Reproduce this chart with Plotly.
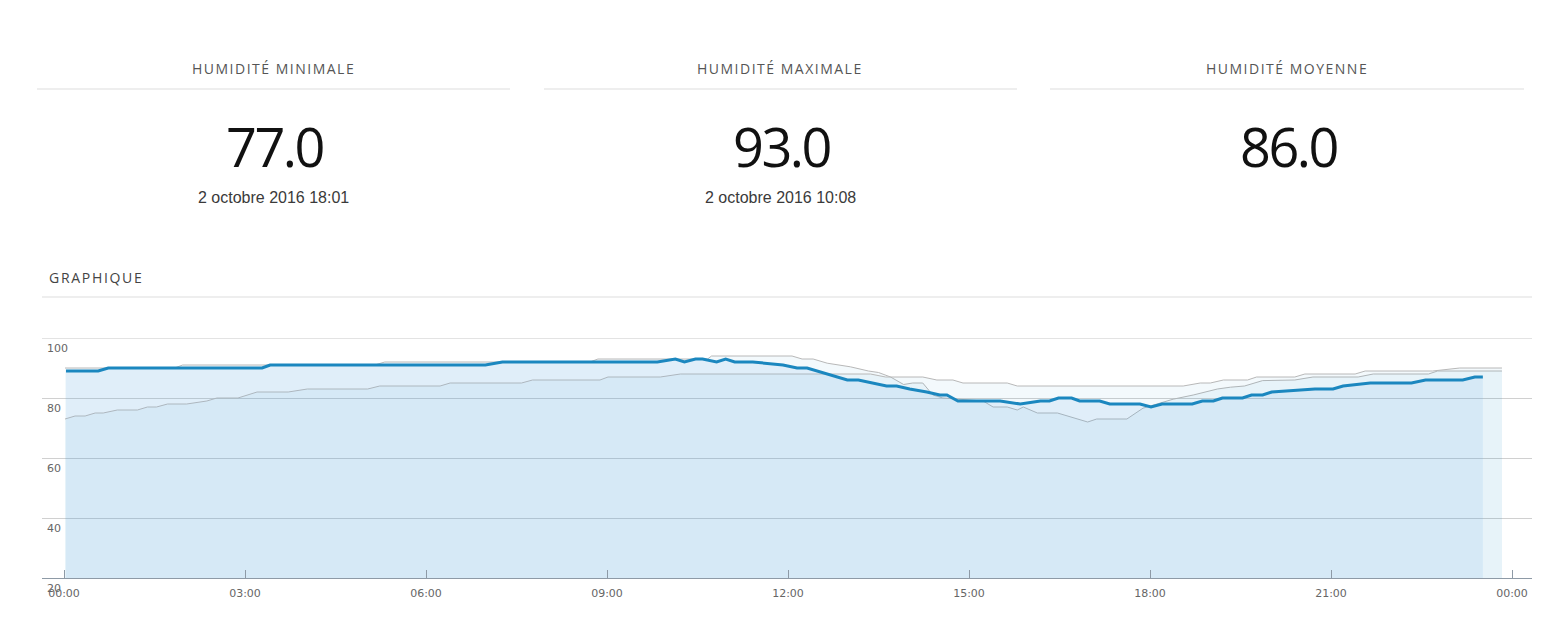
import plotly.graph_objects as go

day = "2016-10-02 "

# Valeurs des cartes en haut
stat_titles = ["HUMIDITÉ MINIMALE", "HUMIDITÉ MAXIMALE", "HUMIDITÉ MOYENNE"]
stat_values = [77.0, 93.0, 86.0]
stat_dates = ["2 octobre 2016 18:01", "2 octobre 2016 10:08", ""]

# Humidité du jour (courbe bleue)
hum_time = ["00:02", "00:34", "00:44", "03:17", "03:25", "06:59", "07:16", "09:50",
            "10:08", "10:17", "10:28", "10:35", "10:49", "10:58", "11:07", "11:25",
            "11:55", "12:09", "12:19", "12:59", "13:10", "13:38", "13:48", "14:01",
            "14:18", "14:31", "14:38", "14:49", "15:31", "15:51", "16:11", "16:20",
            "16:29", "16:42", "16:50", "17:10", "17:20", "17:50", "18:01", "18:12",
            "18:42", "18:52", "19:03", "19:12", "19:32", "19:41", "19:52", "20:01",
            "20:44", "21:02", "21:12", "21:39", "22:20", "22:34", "23:11", "23:23",
            "23:31"]
hum_val = [89, 89, 90, 90, 91, 91, 92, 92,
           93, 92, 93, 93, 92, 93, 92, 92,
           91, 90, 90, 86, 86, 84, 84, 83,
           82, 81, 81, 79, 79, 78, 79, 79,
           80, 80, 79, 79, 78, 78, 77, 78,
           78, 79, 79, 80, 80, 81, 81, 82,
           83, 83, 84, 85, 85, 86, 86, 87,
           87]

# Courbes de référence (grises)
ref_a_time = ["00:01", "01:50", "01:58", "05:09", "05:19", "08:43", "08:51", "10:40",
              "10:44", "12:04", "12:14", "12:25", "12:39", "13:02", "13:20", "13:30",
              "13:42", "13:55", "14:04", "14:14", "14:24", "14:34", "15:14", "15:24",
              "15:38", "15:48", "15:54", "16:08", "16:28", "16:58", "17:07", "17:37",
              "17:53", "18:23", "18:43", "19:07", "19:20", "19:29", "19:34", "19:52",
              "20:24", "20:42", "21:27", "21:42", "22:37", "22:46", "23:50"]
ref_a_val = [90, 90, 91, 91, 92, 92, 93, 93,
             94, 94, 93, 93, 91.6, 90.4, 89, 88.5,
             87, 84.5, 85, 85, 81, 80, 79, 77,
             77, 76, 77, 75, 75, 72, 73, 73,
             76.6, 79.6, 81, 83, 83.6, 84, 84, 85.8,
             86, 87, 87, 88, 88, 89, 89]

ref_b_time = ["00:01", "00:11", "00:21", "00:31", "00:39", "00:53", "01:13", "01:23",
              "01:32", "01:43", "02:02", "02:22", "02:32", "02:53", "03:12", "03:43",
              "04:02", "05:02", "05:14", "06:14", "06:24", "07:35", "07:46", "08:53",
              "09:01", "09:53", "10:13", "13:22", "13:37", "14:14", "14:28", "14:44",
              "14:54", "15:38", "15:48", "18:33", "18:50", "19:00", "19:13", "19:37",
              "19:46", "20:24", "20:34", "21:24", "21:34", "22:41", "23:08", "23:50"]
ref_b_val = [73, 74, 74, 75, 75, 76, 76, 77,
             77, 78, 78, 79, 80, 80, 82, 82,
             83, 83, 84, 84, 85, 85, 86, 86,
             87, 87, 88, 88, 87, 87, 86, 86,
             85, 85, 84, 84, 85, 85, 86, 86,
             87, 87, 88, 88, 89, 89, 90, 90]

y_ticks = [20, 40, 60, 80, 100]

line_color = "#1b87bf"
grey = "#b8b8b8"

# Zone du graphique en pixels
L, R, T, B = 42, 1532, 338, 578


def px(x):
    return (x - L) / (R - L)


def py(y):
    return (B - y) / (B - T)


fig = go.Figure()

for t, v in [(ref_a_time, ref_a_val), (ref_b_time, ref_b_val)]:
    fig.add_trace(go.Scatter(
        x=[day + s for s in t], y=v, mode="lines",
        line=dict(color=grey, width=1),
        fill="tozeroy", fillcolor="rgba(27,135,191,0.05)",
        hoverinfo="skip"
    ))

fig.add_trace(go.Scatter(
    x=[day + s for s in hum_time], y=hum_val, mode="lines",
    line=dict(color=line_color, width=3),
    fill="tozeroy", fillcolor="rgba(110,178,232,0.14)",
    name="Humidité"
))

annotations = []
shapes = []
centers = [273, 780, 1287]
panels = [(37, 510), (544, 1017), (1050, 1524)]
for i in range(3):
    annotations.append(dict(
        x=px(centers[i]), y=py(68), xref="paper", yref="paper",
        text="<span style='letter-spacing:1.5px'>" + stat_titles[i] + "</span>",
        showarrow=False, xanchor="center", yanchor="middle",
        font=dict(family="Open Sans", size=14, color="#555555")
    ))
    annotations.append(dict(
        x=px(centers[i] + 1), y=py(146), xref="paper", yref="paper",
        text="<span style='letter-spacing:-2.5px'>" + "{:.1f}".format(stat_values[i]) + "</span>",
        showarrow=False, xanchor="center", yanchor="middle",
        font=dict(family="Open Sans", size=54, color="#111111")
    ))
    if stat_dates[i]:
        annotations.append(dict(
            x=px(centers[i]), y=py(197), xref="paper", yref="paper",
            text=stat_dates[i], showarrow=False, xanchor="center", yanchor="middle",
            font=dict(family="Liberation Sans", size=16, color="#3a3a3a")
        ))
    shapes.append(dict(
        type="line", xref="paper", yref="paper",
        x0=px(panels[i][0]), x1=px(panels[i][1]), y0=py(89), y1=py(89),
        line=dict(color="#dddddd", width=1)
    ))

annotations.append(dict(
    x=px(47), y=py(277), xref="paper", yref="paper",
    text="<span style='letter-spacing:1.7px'>GRAPHIQUE</span>",
    showarrow=False, xanchor="left", yanchor="middle",
    font=dict(family="Open Sans", size=14, color="#444444")
))
shapes.append(dict(
    type="line", xref="paper", yref="paper",
    x0=0, x1=1, y0=py(297), y1=py(297),
    line=dict(color="#dddddd", width=1)
))
# ligne de grille du haut (100)
shapes.append(dict(
    type="line", xref="paper", yref="y", layer="below",
    x0=0, x1=1, y0=y_ticks[-1], y1=y_ticks[-1],
    line=dict(color="#c8c8c8", width=1)
))

# étiquettes de l'axe Y, sous chaque ligne de grille
for v in y_ticks:
    annotations.append(dict(
        x=px(45), y=v, xref="paper", yref="y",
        text=str(v), showarrow=False, xanchor="left", yanchor="top", yshift=-2,
        font=dict(family="DejaVu Sans", size=11, color="#666666")
    ))

fig.update_layout(
    width=1567, height=619,
    margin=dict(l=L, r=1567 - R, t=T, b=619 - B),
    plot_bgcolor="white", paper_bgcolor="white",
    showlegend=False,
    annotations=annotations,
    shapes=shapes,
    xaxis=dict(
        type="date",
        range=["2016-10-01 23:38:07", "2016-10-03 00:19:53"],
        tick0="2016-10-02 00:00", dtick=3 * 3600 * 1000,
        tickformat="%H:%M",
        showgrid=False, zeroline=False,
        showline=True, linecolor="#8e9aa6", linewidth=1,
        ticks="inside", ticklen=8, tickcolor="#8e9aa6",
        ticklabelstandoff=5,
        tickfont=dict(family="DejaVu Sans", size=11, color="#666666")
    ),
    yaxis=dict(
        range=[20, 100], tickvals=y_ticks,
        showgrid=True, gridcolor="#d0d0d0", gridwidth=1,
        zeroline=False, showline=False,
        showticklabels=False
    )
)

fig.write_html("out.html", config={"displayModeBar": False},
               post_script="document.body.style.margin='0';")
